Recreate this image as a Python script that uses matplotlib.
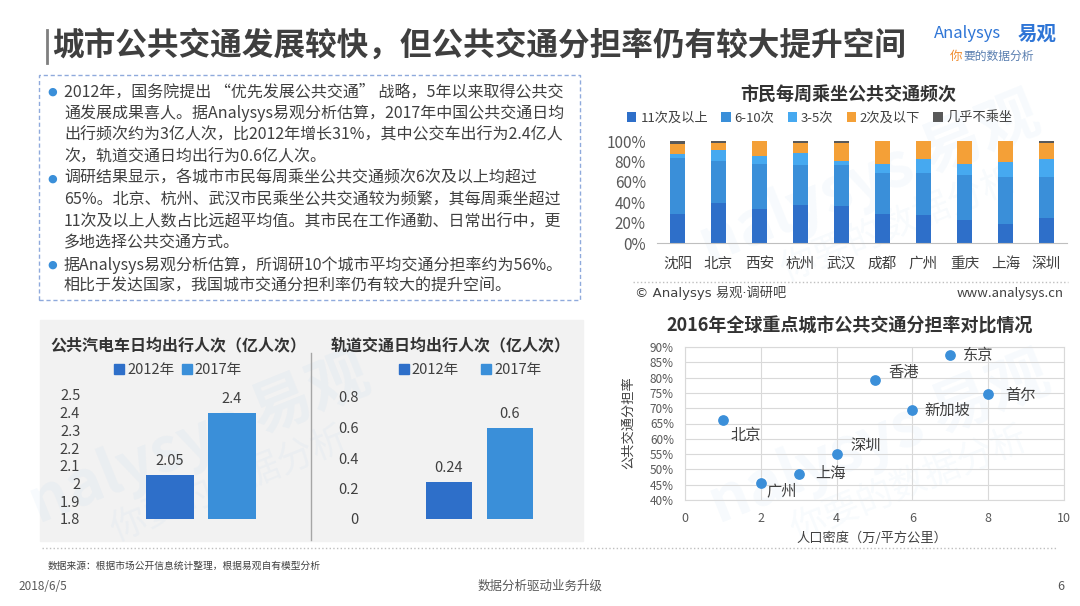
import matplotlib
matplotlib.use('Agg')
import matplotlib.pyplot as plt
from matplotlib.patches import Rectangle, Patch
from matplotlib.lines import Line2D
from matplotlib.ticker import PercentFormatter
import numpy as np

plt.rcParams['font.family'] = ['Noto Sans CJK SC', 'DejaVu Sans']

W, H = 1080, 606

# weekly ride frequency by city (%)
cities = ['沈阳', '北京', '西安', '杭州', '武汉', '成都', '广州', '重庆', '上海', '深圳']
freq_labels = ['11次及以上', '6-10次', '3-5次', '2次及以下', '几乎不乘坐']
freq_11 = [28, 39, 33, 37, 36, 28, 27, 23, 19, 25]
freq_6_10 = [55, 41, 44, 39, 40, 41, 42, 44, 46, 40]
freq_3_5 = [4, 11, 8, 12.5, 4, 8, 13, 10, 14, 17]
freq_2 = [10.5, 7, 15, 9.5, 18, 23, 18, 23, 21, 16]
freq_none = [2.5, 2, 0, 2, 2, 0, 0, 0, 0, 2]

# daily trips (100 million)
years = ['2012年', '2017年']
bus_trips = [2.05, 2.4]
rail_trips = [0.24, 0.6]

# 2016 global cities
world_cities = ['北京', '广州', '上海', '深圳', '香港', '新加坡', '东京', '首尔']
density = [1, 2, 3, 4, 5, 6, 7, 8]
share = [66, 45.5, 48.5, 55, 79.3, 69.3, 87.3, 74.5]

body_lines = [
    '2012年，国务院提出 “优先发展公共交通” 战略，5年以来取得公共交',
    '通发展成果喜人。据Analysys易观分析估算，2017年中国公共交通日均',
    '出行频次约为3亿人次，比2012年增长31%，其中公交车出行为2.4亿人',
    '次，轨道交通日均出行为0.6亿人次。',
    '调研结果显示，各城市市民每周乘坐公共交通频次6次及以上均超过',
    '65%。北京、杭州、武汉市民乘坐公共交通较为频繁，其每周乘坐超过',
    '11次及以上人数占比远超平均值。其市民在工作通勤、日常出行中，更',
    '多地选择公共交通方式。',
    '据Analysys易观分析估算，所调研10个城市平均交通分担率约为56%。',
    '相比于发达国家，我国城市交通分担利率仍有较大的提升空间。',
]
bullet_rows = [0, 4, 8]

TXT = '#404040'
GRAY = '#595959'
DARK = '#2E6FC9'
MID = '#3A8FD9'
LIGHT = '#46A9F0'
ORANGE = '#F4A037'


def box(x0, y0, x1, y1):
    return [x0 / W, 1 - y1 / H, (x1 - x0) / W, (y1 - y0) / H]


def fx(x):
    return x / W


def fy(y):
    return 1 - y / H


fig = plt.figure(figsize=(W / 100, H / 100), dpi=100)
fig.patch.set_facecolor('white')

# faint watermarks
for wx, wy in [(200, 440), (870, 180), (880, 440)]:
    fig.text(fx(wx), fy(wy), 'nalysys 易观', fontsize=44, fontweight='bold',
             color='#3A8FD9', alpha=0.045, rotation=22, ha='center', va='center', zorder=-1)
    fig.text(fx(wx + 30), fy(wy + 45), '你要的数据分析', fontsize=26,
             color='#3A8FD9', alpha=0.04, rotation=22, ha='center', va='center', zorder=-1)

# header
fig.add_artist(Line2D([fx(47), fx(47)], [fy(30), fy(63)], color='#7F7F7F', lw=2))
fig.text(fx(52), fy(46), '城市公共交通发展较快，但公共交通分担率仍有较大提升空间',
         fontsize=22.8, fontweight='bold', color='#3F3F3F', va='center')
fig.text(fx(934), fy(34), 'Analysys', fontsize=12, style='italic', color='#2E75D6', va='center')
fig.text(fx(1057), fy(34), '易观', fontsize=14, fontweight='bold', color='#2E75D6',
         va='center', ha='right')
fig.text(fx(950), fy(56), '你', fontsize=9, color='#F08C2E', va='center', style='italic')
fig.text(fx(963), fy(56), '要的数据分析', fontsize=8.5, color='#5A7FB0', va='center', style='italic')

# text box
fig.add_artist(Rectangle((fx(39), fy(300)), (580 - 39) / W, (300 - 75) / H,
                         transform=fig.transFigure, fill=False,
                         edgecolor='#8FAADC', lw=1, linestyle=(0, (3, 2))))
for i, line in enumerate(body_lines):
    y = 92 + 21.6 * i
    if i in bullet_rows:
        fig.text(fx(47), fy(y), '●', fontsize=8, color='#3A8FD9', va='center',
                 family='DejaVu Sans')
    fig.text(fx(64), fy(y), line, fontsize=11.5, color=TXT, va='center')

# stacked bar chart
ax1 = fig.add_axes(box(657, 141, 1067, 243))
ax1.set_facecolor('none')
x = np.arange(len(cities))
bottom = np.zeros(len(cities))
for vals, color, lab in zip([freq_11, freq_6_10, freq_3_5, freq_2, freq_none],
                            [DARK, MID, LIGHT, ORANGE, GRAY], freq_labels):
    v = np.array(vals) / 100
    ax1.bar(x, v, 0.38, bottom=bottom, color=color, label=lab)
    bottom += v
ax1.set_xlim(-0.5, 9.5)
ax1.set_ylim(0, 1)
ax1.set_yticks(np.arange(0, 1.01, 0.2))
ax1.yaxis.set_major_formatter(PercentFormatter(1, decimals=0))
ax1.set_xticks(x)
ax1.set_xticklabels(cities)
for s in ['top', 'right', 'left']:
    ax1.spines[s].set_visible(False)
ax1.spines['bottom'].set_color('#BFBFBF')
ax1.tick_params(axis='y', length=0, labelsize=11, labelcolor=GRAY, pad=8)
ax1.tick_params(axis='x', length=0, labelsize=10.5, labelcolor=TXT, pad=10)
ax1.legend(ncol=5, loc='center', bbox_to_anchor=(fx(820), fy(118)),
           bbox_transform=fig.transFigure, frameon=False, fontsize=9.5,
           handlelength=0.7, handleheight=0.7, handletextpad=0.3,
           columnspacing=1.0, labelcolor=TXT)
fig.text(fx(848), fy(95), '市民每周乘坐公共交通频次', fontsize=13, fontweight='bold',
         color='#333333', ha='center', va='center')
fig.add_artist(Line2D([fx(633), fx(1068)], [fy(282), fy(282)], color='#BFBFBF',
                      lw=1, linestyle=':'))
fig.text(fx(635), fy(293), '© Analysys 易观·调研吧', fontsize=9.5, color=TXT, va='center',
         family=['DejaVu Sans', 'Noto Sans CJK SC'])
fig.text(fx(1064), fy(293), 'www.analysys.cn', fontsize=9.5, color=TXT, va='center', ha='right')

# scatter chart
ax2 = fig.add_axes(box(685, 347, 1064, 500))
ax2.set_facecolor('none')
ax2.scatter(density, np.array(share) / 100, s=45, color='#3B8FD9', zorder=3)
label_offsets = {'北京': (8, -15), '广州': (6, -8), '上海': (17, 1), '深圳': (14, 9),
                 '香港': (14, 7), '新加坡': (12, 0), '东京': (13, 0), '首尔': (17, -1)}
for name, dx, dy in zip(world_cities, density, share):
    ox, oy = label_offsets[name]
    ax2.annotate(name, (dx, dy / 100), xytext=(ox, oy), textcoords='offset pixels',
                 fontsize=11, color=TXT, va='center', ha='left')
ax2.set_xlim(0, 10)
ax2.set_ylim(0.4, 0.9)
ax2.set_xticks(np.arange(0, 11, 2))
ax2.set_yticks(np.arange(0.4, 0.901, 0.05))
ax2.yaxis.set_major_formatter(PercentFormatter(1, decimals=0))
ax2.grid(True, color='#D9D9D9', lw=0.8)
ax2.set_axisbelow(True)
for s in ax2.spines.values():
    s.set_color('#D9D9D9')
ax2.tick_params(axis='y', length=0, labelsize=8.5, labelcolor=GRAY, pad=8)
ax2.tick_params(axis='x', length=0, labelsize=9, labelcolor=GRAY, pad=9)
fig.text(fx(850), fy(326), '2016年全球重点城市公共交通分担率对比情况', fontsize=13,
         fontweight='bold', color='#333333', ha='center', va='center')
fig.text(fx(872), fy(538), '人口密度（万/平方公里）', fontsize=9.5, color=TXT,
         ha='center', va='center')
fig.text(fx(628), fy(423), '公共交通分担率', fontsize=9.5, color=TXT, ha='center',
         va='center', rotation=90)

# bottom-left panel
fig.add_artist(Rectangle((fx(40), fy(541)), (583 - 40) / W, (541 - 320) / H,
                         transform=fig.transFigure, color='#F2F2F2', zorder=-5))
fig.add_artist(Line2D([fx(311), fx(311)], [fy(353), fy(540)], color='#A6A6A6', lw=1))

ax3 = fig.add_axes(box(108, 395, 294, 519))
ax4 = fig.add_axes(box(388, 397, 571, 519))
for ax, vals, lim, step, pad in [(ax3, bus_trips, (1.8, 2.5), 0.1, 20),
                                 (ax4, rail_trips, (0, 0.8), 0.2, 21)]:
    ax.set_facecolor('none')
    ax.bar([0, 1], vals, 0.77, color=[DARK, MID])
    for i, v in enumerate(vals):
        ax.annotate('{:g}'.format(v), (i, v), xytext=(0, 7), textcoords='offset pixels',
                    ha='center', va='bottom', fontsize=10.5, color=TXT)
    ax.set_xlim(-1, 2)
    ax.set_ylim(*lim)
    ticks = np.round(np.arange(lim[0], lim[1] + 1e-6, step), 2)
    ax.set_yticks(ticks)
    ax.set_yticklabels(['{:g}'.format(t) for t in ticks])
    ax.set_xticks([])
    for s in ax.spines.values():
        s.set_visible(False)
    ax.tick_params(axis='y', length=0, labelsize=10.5, labelcolor=TXT, pad=pad)

fig.text(fx(178), fy(345), '公共汽电车日均出行人次（亿人次）', fontsize=11.5,
         fontweight='bold', color='#333333', ha='center', va='center')
fig.text(fx(451), fy(345), '轨道交通日均出行人次（亿人次）', fontsize=11.5,
         fontweight='bold', color='#333333', ha='center', va='center')
handles = [Patch(color=DARK, label=years[0]), Patch(color=MID, label=years[1])]
for cx, sp in [(178, 0.5), (470, 1.5)]:
    fig.legend(handles=handles, ncol=2, loc='center', bbox_to_anchor=(fx(cx), fy(370)),
               frameon=False, fontsize=10.5, handlelength=0.7, handleheight=0.7,
               handletextpad=0.2, columnspacing=sp, labelcolor=TXT)

fig.add_artist(Line2D([fx(42), fx(1056)], [fy(548), fy(548)], color='#BFBFBF',
                      lw=1, linestyle=':'))

# footer
fig.text(fx(48), fy(566), '数据来源：根据市场公开信息统计整理，根据易观自有模型分析',
         fontsize=7, color=TXT, va='center')
fig.text(fx(18), fy(586), '2018/6/5', fontsize=8.5, color=GRAY, va='center')
fig.text(fx(540), fy(586), '数据分析驱动业务升级', fontsize=9, color=GRAY, va='center', ha='center')
fig.text(fx(1064), fy(586), '6', fontsize=9, color=GRAY, va='center', ha='right')

fig.savefig('out.png', dpi=100)
